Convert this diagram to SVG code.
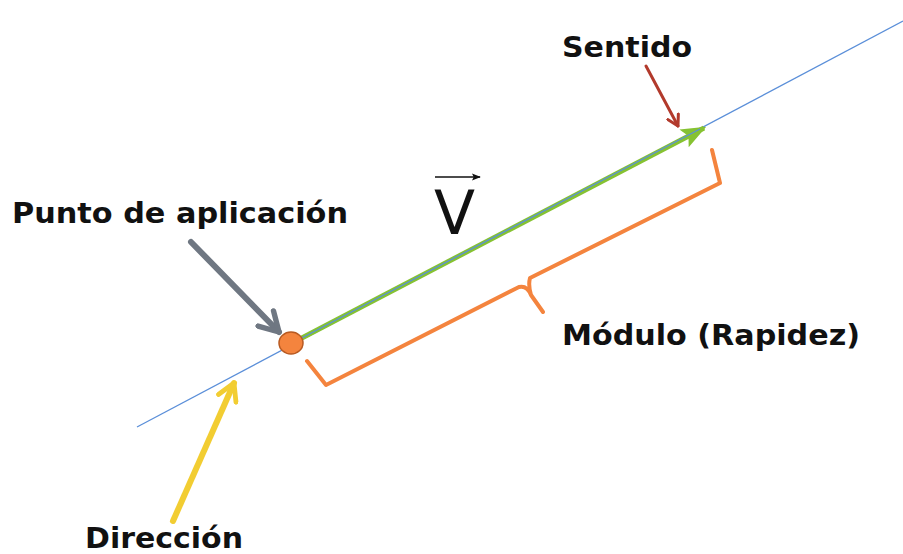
<svg xmlns="http://www.w3.org/2000/svg" width="903" height="554" viewBox="0 0 903 554">
<style>
.lbl{font-family:"DejaVu Sans","Liberation Sans",sans-serif;font-weight:bold;font-size:28px;fill:#111}
</style>
<defs>
<marker id="mGray" viewBox="0 0 10 10" refX="8" refY="5" markerWidth="4.5" markerHeight="4.5" orient="auto" markerUnits="strokeWidth"><path d="M1 1 L8 5 L1 9" fill="none" stroke="#6f7782" stroke-width="2" stroke-linecap="round" stroke-linejoin="round"/></marker>
<marker id="mYel" viewBox="0 0 10 10" refX="8" refY="5" markerWidth="4" markerHeight="4" orient="auto" markerUnits="strokeWidth"><path d="M1 1 L8 5 L1 9" fill="none" stroke="#f2cd32" stroke-width="2" stroke-linecap="round" stroke-linejoin="round"/></marker>
<marker id="mRed" viewBox="0 0 10 10" refX="8" refY="5" markerWidth="5" markerHeight="5" orient="auto" markerUnits="strokeWidth"><path d="M1 1 L8 5 L1 9" fill="none" stroke="#b23a2c" stroke-width="2" stroke-linecap="round" stroke-linejoin="round"/></marker>
<marker id="mGreen" viewBox="0 0 10 10" refX="9" refY="5" markerWidth="5" markerHeight="5" orient="auto" markerUnits="strokeWidth"><path d="M0 1 L10 5 L0 9 L2 5 Z" fill="#86c232"/></marker>
<marker id="mBlack" viewBox="0 0 10 10" refX="9" refY="5" markerWidth="6" markerHeight="6" orient="auto" markerUnits="strokeWidth"><path d="M0 1 L10 5 L0 9 L2 5 Z" fill="#111"/></marker>
</defs>
<rect width="903" height="554" fill="#fff"/>
<g id="connectors">
<line x1="137" y1="427" x2="903" y2="21" stroke="#5b8fd9" stroke-width="1.3"/>
<line x1="298" y1="340" x2="704" y2="128" stroke="#86c232" stroke-width="5" marker-end="url(#mGreen)"/>
<line x1="298" y1="340" x2="700" y2="129" stroke="#5b8fd9" stroke-width="1.3"/>
<path d="M307 361 L326 385 L519 287 Q527 285 531 295 L543 312 M531 295 Q528 285 530 278 L720 183 L712 150" fill="none" stroke="#f4843e" stroke-width="4" stroke-linejoin="round" stroke-linecap="round"/>
<line x1="191" y1="242" x2="279" y2="332" stroke="#6f7782" stroke-width="6" stroke-linecap="round" marker-end="url(#mGray)"/>
<line x1="646" y1="66" x2="678" y2="126" stroke="#b23a2c" stroke-width="3" stroke-linecap="round" marker-end="url(#mRed)"/>
<line x1="173" y1="521" x2="234" y2="383" stroke="#f2cd32" stroke-width="6" stroke-linecap="round" marker-end="url(#mYel)"/>
</g>
<g id="punto">
<ellipse cx="291" cy="343" rx="12" ry="11" fill="#f4843e" stroke="#b85a22" stroke-width="1.5"/>
<text class="lbl" x="12" y="223" textLength="336" lengthAdjust="spacingAndGlyphs">Punto de aplicación</text>
</g>
<g id="sentido">
<text class="lbl" x="562" y="57" textLength="130" lengthAdjust="spacingAndGlyphs">Sentido</text>
</g>
<g id="modulo">
<text class="lbl" x="562" y="345" textLength="298" lengthAdjust="spacingAndGlyphs">Módulo (Rapidez)</text>
</g>
<g id="direccion">
<text class="lbl" x="85" y="548" textLength="158" lengthAdjust="spacingAndGlyphs">Dirección</text>
</g>
<g id="vector">
<line x1="435" y1="177" x2="480" y2="177" stroke="#111" stroke-width="1.5" marker-end="url(#mBlack)"/>
<text x="434" y="234" font-family="DejaVu Sans, sans-serif" font-size="60" fill="#111">V</text>
</g>
</svg>
